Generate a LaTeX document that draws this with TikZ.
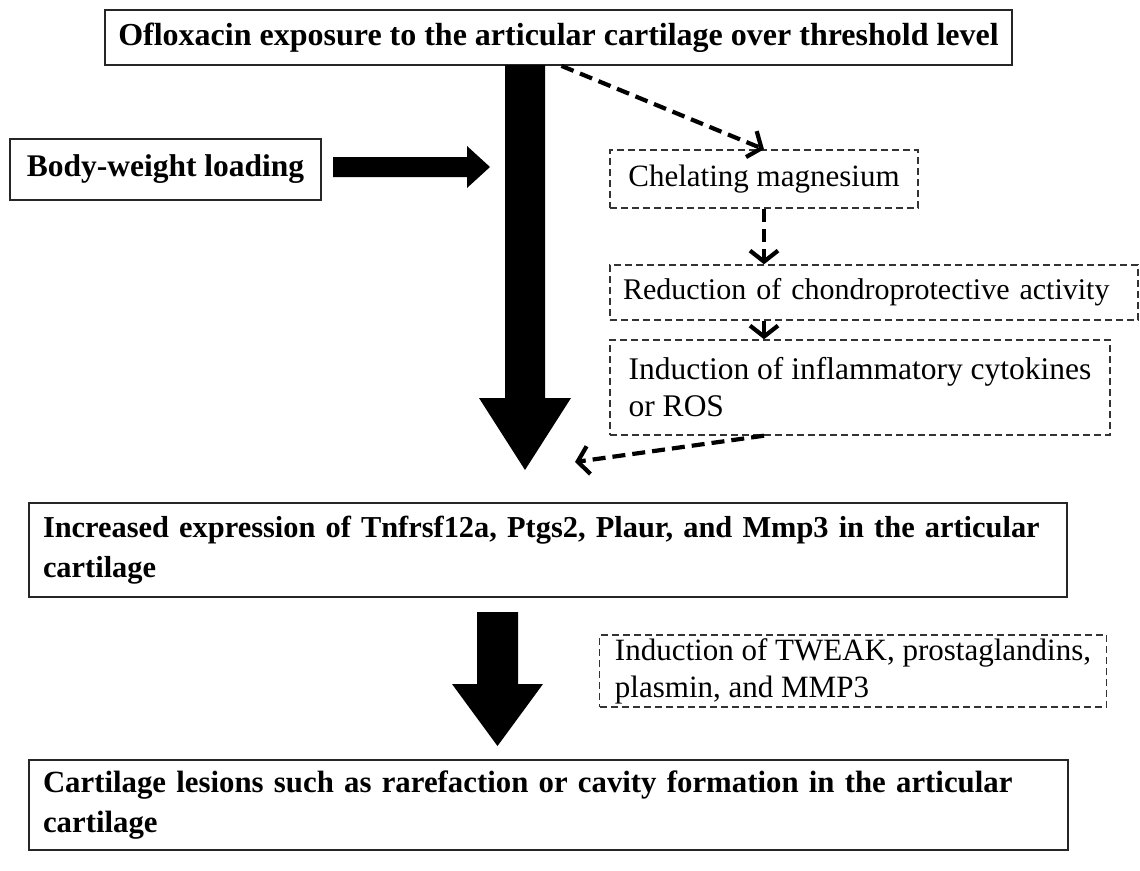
\documentclass[tikz,border=0pt]{standalone}
\usepackage{fontspec}
\setmainfont{Liberation Serif}
\usetikzlibrary{arrows.meta,calc}
\begin{document}
\begin{tikzpicture}[x=1pt,y=-1pt,
  solidbox/.style={draw=black!85, line width=1.8pt, rectangle, inner sep=0pt,
    font=\fontsize{30.8}{40}\selectfont\bfseries},
  dashbox/.style={draw=black!80, line width=1.4pt, dash pattern=on 7pt off 4pt,
    rectangle, inner sep=0pt, font=\fontsize{31}{37}\selectfont},
  dasharrow/.style={line width=4.2pt, dash pattern=on 13pt off 7pt,
    -{Straight Barb[length=11pt,width=28pt,line width=4.2pt]}},
  blockarrow/.style={fill=black}]
\useasboundingbox (0,0) rectangle (1140,870);

% solid boxes
\node[solidbox, font=\fontsize{32}{40}\selectfont\bfseries, minimum width=907pt, minimum height=55pt] (top) at (558.5,37.5)
  {Ofloxacin exposure to the articular cartilage over threshold level};
\node[solidbox, font=\fontsize{31.5}{40}\selectfont\bfseries, minimum width=311pt, minimum height=61pt] (body) at (165.5,169.5)
  {Body-weight loading};
\node[solidbox, font=\fontsize{30.4}{40}\selectfont\bfseries, minimum width=1038pt, minimum height=94pt, text width=1010pt, align=left] (incr) at (548,550)
  {Increased expression of Tnfrsf12a, Ptgs2, Plaur, and Mmp3 in the articular\\cartilage};
\node[solidbox, minimum width=1039pt, minimum height=90pt, text width=1011pt, align=left] (lesion) at (548.5,805)
  {Cartilage lesions such as rarefaction or cavity formation in the articular\\cartilage};

% dashed boxes
\node[dashbox, minimum width=308pt, minimum height=58pt] (chel) at (764,179)
  {Chelating magnesium};
\node[dashbox, font=\fontsize{30}{37}\selectfont, minimum width=528pt, minimum height=55pt, text width=502pt, align=left] (red) at (874,292.5)
  {Reduction of chondroprotective activity};
\node[dashbox, font=\fontsize{31.5}{37}\selectfont, minimum width=500pt, minimum height=95pt, align=left] (infl) at (860,387.5)
  {Induction of inflammatory cytokines\\or ROS};
\node[dashbox, minimum width=507pt, minimum height=72pt, align=left] (tweak) at (853,671)
  {Induction of TWEAK, prostaglandins,\\plasmin, and MMP3};

% block arrows
\fill[blockarrow] (505,65) -- (545,65) -- (545,398) -- (571,398) -- (525,470)
  -- (479,398) -- (505,398) -- cycle;
\fill[blockarrow] (477,612) -- (518,612) -- (518,684) -- (543,684) -- (497.5,746)
  -- (452,684) -- (477,684) -- cycle;
\fill[blockarrow] (333,157) -- (467,157) -- (467,146) -- (490,167) -- (467,188)
  -- (467,177) -- (333,177) -- cycle;

% dashed connectors
\coordinate (topout) at ($(top.south)+(3,0)$);
\coordinate (bigtip) at (575,462);
\draw[dasharrow] (topout) -- (chel.north);
\draw[dasharrow] (chel.south) -- (chel.south |- red.north);
\draw[dasharrow] (chel.south |- red.south) -- (chel.south |- infl.north);
\draw[dasharrow] (chel.south |- infl.south) -- (bigtip);
\end{tikzpicture}
\end{document}
